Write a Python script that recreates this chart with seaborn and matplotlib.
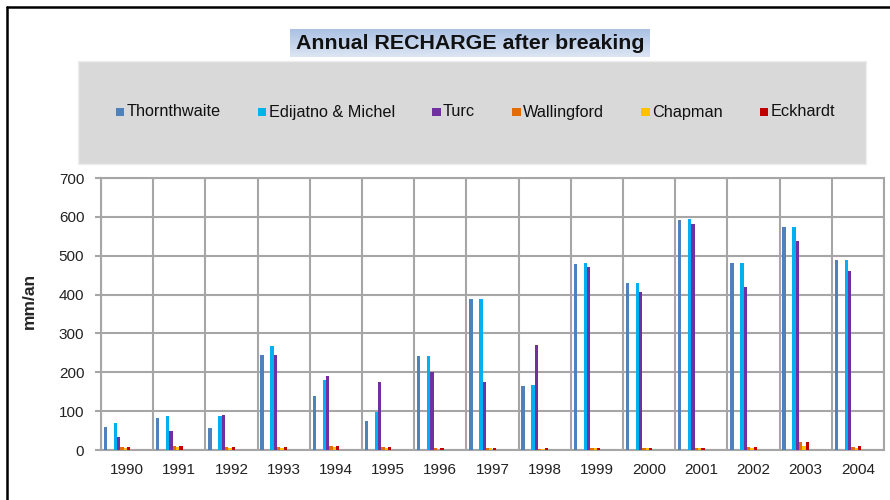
import numpy as np
import pandas as pd
import matplotlib
matplotlib.use("Agg")
import matplotlib.pyplot as plt
import seaborn as sns
from matplotlib.patches import Rectangle
from matplotlib.lines import Line2D

## data (mm/an)
years = [str(y) for y in range(1990, 2005)]
thornthwaite = [59, 82, 56, 245, 140, 74, 243, 389, 164, 479, 430, 591, 481, 575, 490]
edijatno = [69, 88, 88, 268, 179, 99, 243, 389, 166, 482, 430, 594, 482, 575, 490]
turc = [34, 48, 91, 245, 190, 176, 200, 176, 271, 472, 406, 581, 420, 537, 460]
wallingford = [8, 11, 7, 8, 11, 8, 4, 6, 3, 6, 6, 6, 7, 20, 9]
chapman = [6, 7, 5, 6, 7, 6, 1, 4, 3, 4, 4, 4, 5, 11, 5]
eckhardt = [8, 11, 7, 8, 11, 8, 4, 6, 4, 6, 6, 6, 7, 20, 11]

series = {
    "Thornthwaite": thornthwaite,
    "Edijatno & Michel": edijatno,
    "Turc": turc,
    "Wallingford": wallingford,
    "Chapman": chapman,
    "Eckhardt": eckhardt,
}
colors = {
    "Thornthwaite": "#4F81BD",
    "Edijatno & Michel": "#00B0F0",
    "Turc": "#7030A0",
    "Wallingford": "#E36C09",
    "Chapman": "#FFC000",
    "Eckhardt": "#C00000",
}

# the original Excel chart has empty series slots, keep them so bars sit the same way
hue_order = ["Thornthwaite", "_e1", "_e2", "Edijatno & Michel", "Turc",
             "Wallingford", "Chapman", "Eckhardt",
             "_e3", "_e4", "_e5", "_e6", "_e7", "_e8"]

rows = []
for name in hue_order:
    vals = series.get(name, [0] * len(years))
    for yr, v in zip(years, vals):
        rows.append({"year": yr, "serie": name, "value": v})
df = pd.DataFrame(rows)

palette = {h: colors.get(h, "white") for h in hue_order}

sns.set_style("white")
plt.rcParams['font.family'] = ['Liberation Sans', 'DejaVu Sans']

W, H = 890, 500
fig = plt.figure(figsize=(W / 100, H / 100), dpi=100)
ax = fig.add_axes([101 / W, 50 / H, 783 / W, 272 / H])

sns.barplot(data=df, x="year", y="value", hue="serie", hue_order=hue_order,
            order=years, palette=palette, width=0.89, dodge=True, gap=0,
            legend=False, saturation=1, errorbar=None, linewidth=0, ax=ax, zorder=3)

grid_col = "#A6A6A6"
ax.set_xlim(-0.5, len(years) - 0.5)
ax.set_ylim(0, 700)
ax.set_yticks(range(0, 701, 100))
ax.set_xticks(np.arange(-0.5, len(years), 1), minor=True)
ax.grid(False)
ax.grid(which="minor", axis="x", color=grid_col, lw=1.5, zorder=0)
ax.grid(which="major", axis="y", color=grid_col, lw=1.5, zorder=0)
ax.set_axisbelow(True)
for sp in ax.spines.values():
    sp.set_color(grid_col)
    sp.set_linewidth(1.5)
ax.tick_params(axis="x", which="major", length=0, pad=9, labelsize=11, labelcolor="#222222")
ax.tick_params(axis="x", which="minor", length=4, width=1.5, color=grid_col, direction="out")
ax.tick_params(axis="y", length=4, width=1.5, color=grid_col, pad=8, labelsize=11,
               labelcolor="#222222", left=True)
ax.set_xlabel("")
ax.set_ylabel("")
fig.text(29 / W, 1 - 301 / H, "mm/an", rotation=90, ha="center", va="center",
         fontsize=12.5, weight="bold")

# legend area (grey box)
fig.patches.append(Rectangle((78 / W, 1 - 164 / H), 788 / W, 103 / H,
                             transform=fig.transFigure, facecolor="#D9D9D9",
                             edgecolor="#EEEEEE", lw=1, zorder=0))

# legend items laid out like Excel: square, label, fixed gap
renderer = fig.canvas.get_renderer()
x = 115.7
base_y = 1 - 116.5 / H
for name in series:
    fig.patches.append(Rectangle((x / W, 1 - 116 / H), 8.5 / W, 8.5 / H,
                                 transform=fig.transFigure, facecolor=colors[name],
                                 edgecolor="none", zorder=2))
    t = fig.text((x + 11) / W, base_y, name, ha="left", va="baseline",
                 fontsize=11.7, color="#111111")
    tw = t.get_window_extent(renderer).width
    x = x + 11 + tw + 37

# title with the bluish gradient box
tax = fig.add_axes([290 / W, 1 - 57 / H, 360 / W, 28 / H])
grad = np.linspace(0, 1, 50).reshape(-1, 1)
cmap = matplotlib.colors.LinearSegmentedColormap.from_list("tb", ["#A9C0E3", "#DCE5F3"])
tax.imshow(grad, aspect="auto", cmap=cmap, extent=(0, 1, 0, 1), interpolation="bilinear")
tax.set_axis_off()
fig.text(470.5 / W, 1 - 43.5 / H, "Annual RECHARGE after breaking", ha="center",
         va="center", fontsize=15.4, weight="bold", color="#111111")

# outer frame of the pasted chart
fig.add_artist(Line2D([6.5 / W, 6.5 / W], [0, 1 - 7 / H], color="black", lw=1.8,
                      transform=fig.transFigure))
fig.add_artist(Line2D([6.5 / W, 1], [1 - 7 / H, 1 - 7 / H], color="black", lw=1.8,
                      transform=fig.transFigure))

fig.savefig("out.png", dpi=100)
